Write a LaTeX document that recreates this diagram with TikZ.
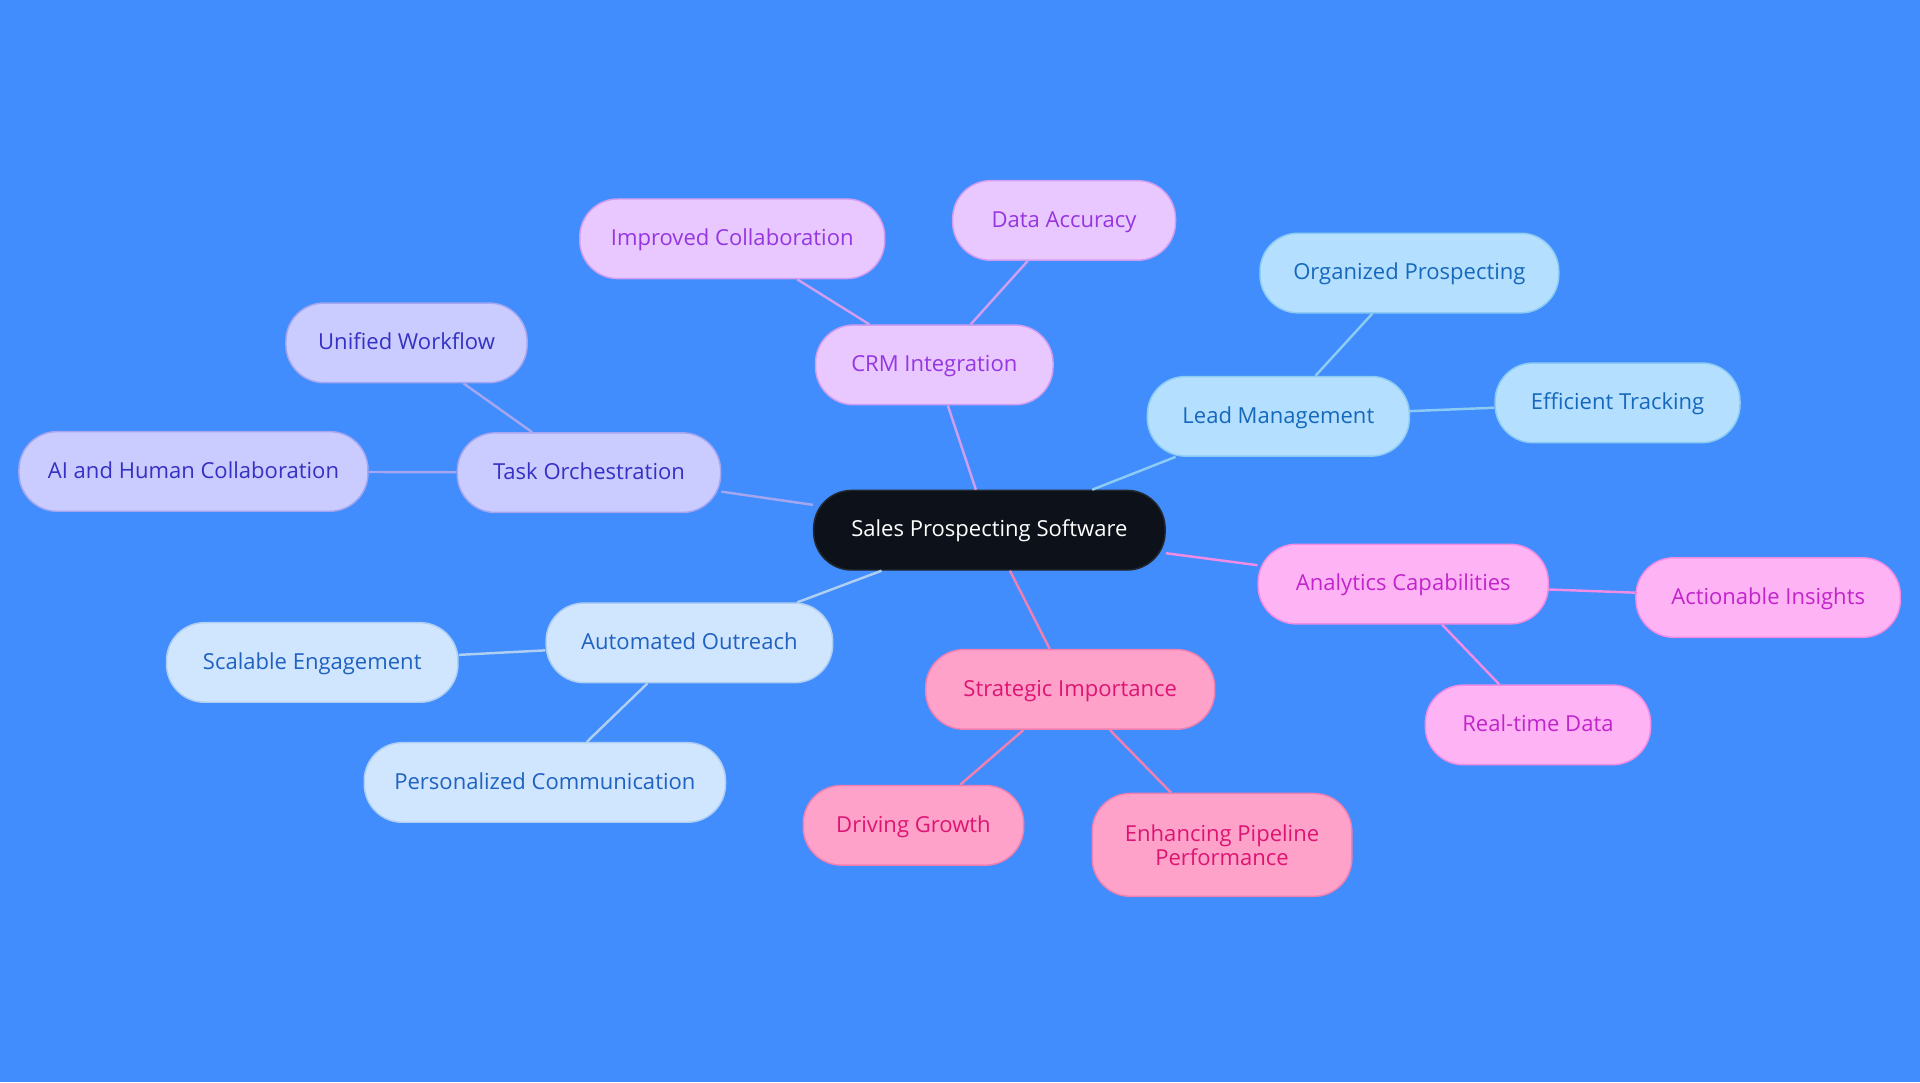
\documentclass[tikz,border=0pt]{standalone}
\usepackage{fontspec}
\setmainfont{Open Sans}
\definecolor{bgblue}{HTML}{418DFE}
\definecolor{rootfill}{HTML}{0D121A}
\definecolor{crmfill}{HTML}{E8C8FE}
\definecolor{crmline}{HTML}{D09EF0}
\definecolor{crmtext}{HTML}{9536E0}
\definecolor{leadfill}{HTML}{B4DFFE}
\definecolor{leadline}{HTML}{8CCBF2}
\definecolor{leadtext}{HTML}{1668BC}
\definecolor{taskfill}{HTML}{CACBFE}
\definecolor{taskline}{HTML}{A4A6F0}
\definecolor{tasktext}{HTML}{3431C4}
\definecolor{outfill}{HTML}{D0E5FE}
\definecolor{outline}{HTML}{AFCFF2}
\definecolor{outtext}{HTML}{1F62C0}
\definecolor{anafill}{HTML}{FEB4F4}
\definecolor{analine}{HTML}{F08CE4}
\definecolor{anatext}{HTML}{C224CC}
\definecolor{strfill}{HTML}{FEA2CA}
\definecolor{strline}{HTML}{F080B2}
\definecolor{strtext}{HTML}{DE1473}
\begin{document}
\begin{tikzpicture}[x=1pt,y=-1pt]
        \tikzset{
          box/.style={draw, rounded corners=31, line width=1.2, minimum height=65, inner sep=0pt,
            align=center, font=\fontsize{18}{19.5}\selectfont, text height=14, text depth=3},
          rootbox/.style={box, fill=rootfill, draw=rootfill!80!gray, text=white},
          crmbox/.style={box, fill=crmfill, draw=crmline, text=crmtext},
          leadbox/.style={box, fill=leadfill, draw=leadline, text=leadtext},
          taskbox/.style={box, fill=taskfill, draw=taskline, text=tasktext},
          outbox/.style={box, fill=outfill, draw=outline, text=outtext},
          anabox/.style={box, fill=anafill, draw=analine, text=anatext},
          strbox/.style={box, fill=strfill, draw=strline, text=strtext},
          link/.style={line width=2}
        }
        \fill [bgblue] (0,0) rectangle (1568,884);
        \useasboundingbox (0,0) rectangle (1568,884);
        % centre
        \node [rootbox, minimum width=287] (root) at (808,433) {Sales Prospecting Software};
        % CRM branch
        \node [crmbox, minimum width=194] (crm) at (763,298) {CRM Integration};
        \node [crmbox, minimum width=249] (collab) at (598,195) {Improved Collaboration};
        \node [crmbox, minimum width=182] (accuracy) at (869,180) {Data Accuracy};
        % lead branch
        \node [leadbox, minimum width=214] (lead) at (1044,340) {Lead Management};
        \node [leadbox, minimum width=244] (organized) at (1151,223) {Organized Prospecting};
        \node [leadbox, minimum width=200] (tracking) at (1321,329) {Efficient Tracking};
        % analytics branch
        \node [anabox, minimum width=237] (analytics) at (1146,477) {Analytics Capabilities};
        \node [anabox, minimum width=216] (insights) at (1444,488) {Actionable Insights};
        \node [anabox, minimum width=184] (realtime) at (1256,592) {Real-time Data};
        % strategic branch
        \node [strbox, minimum width=236] (strategic) at (874,563) {Strategic Importance};
        \node [strbox, minimum width=180] (growth) at (746,674) {Driving Growth};
        \node [strbox, minimum width=212, minimum height=84, text height=, text depth=] (pipeline) at (998,690) {Enhancing Pipeline\\Performance};
        % outreach branch
        \node [outbox, minimum width=234] (outreach) at (563,525) {Automated Outreach};
        \node [outbox, minimum width=238] (scalable) at (255,541) {Scalable Engagement};
        \node [outbox, minimum width=295] (personal) at (445,639) {Personalized Communication};
        % task branch
        \node [taskbox, minimum width=215] (task) at (481,386) {Task Orchestration};
        \node [taskbox, minimum width=197] (workflow) at (332,280) {Unified Workflow};
        \node [taskbox, minimum width=285] (aihuman) at (158,385) {AI and Human Collaboration};
        % links
        \draw [link, crmline] (root) -- (crm);
        \draw [link, crmline] (crm) -- (collab);
        \draw [link, crmline] (crm) -- (accuracy);
        \draw [link, leadline] (root) -- (lead);
        \draw [link, leadline] (lead) -- (organized);
        \draw [link, leadline] (lead) -- (tracking);
        \draw [link, analine] (root) -- (analytics);
        \draw [link, analine] (analytics) -- (insights);
        \draw [link, analine] (analytics) -- (realtime);
        \draw [link, strline] (root) -- (strategic);
        \draw [link, strline] (strategic) -- (growth);
        \draw [link, strline] (strategic) -- (pipeline);
        \draw [link, outline] (root) -- (outreach);
        \draw [link, outline] (outreach) -- (scalable);
        \draw [link, outline] (outreach) -- (personal);
        \draw [link, taskline] (root) -- (task);
        \draw [link, taskline] (task) -- (workflow);
        \draw [link, taskline] (task) -- (aihuman);
\end{tikzpicture}
\end{document}
